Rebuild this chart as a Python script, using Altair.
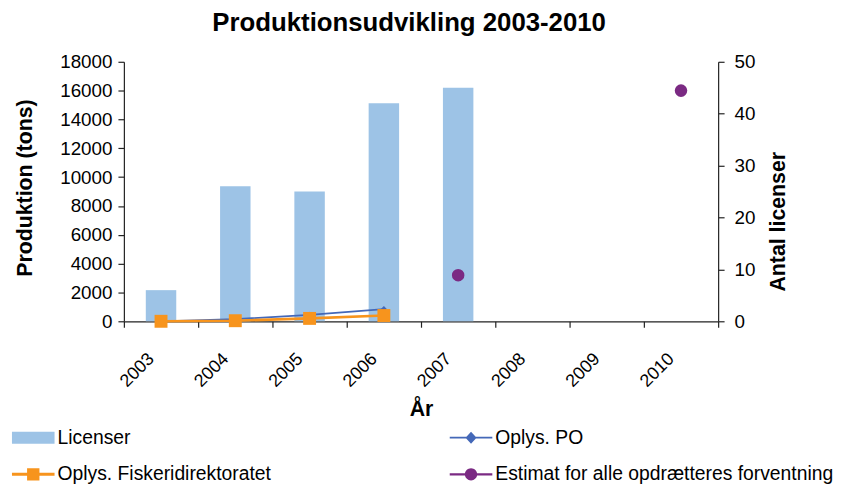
import altair as alt
import pandas as pd

years = ["2003", "2004", "2005", "2006", "2007", "2008", "2009", "2010"]

lic_years = ["2003", "2004", "2005", "2006", "2007"]
licenser = [6, 26, 25, 42, 45]

po_years = ["2003", "2004", "2005", "2006"]
po_values = [0, 150, 450, 850]

fisk_years = ["2003", "2004", "2005", "2006"]
fisk_values = [0, 40, 200, 400]

est_years = ["2007", "2010"]
est_values = [3200, 16000]

series = ["Licenser", "Oplys. PO", "Oplys. Fiskeridirektoratet",
          "Estimat for alle opdrætteres forventning"]
colors = ["#9DC3E6", "#4468B8", "#F7941D", "#7B2A83"]
legend_shapes = [
    "M-1,-0.28H1V0.28H-1Z",
    "M-1,-0.045H1V0.045H-1Z M0,-0.28L0.26,0L0,0.28L-0.26,0Z",
    "M-1,-0.07H1V0.07H-1Z M-0.29,-0.29H0.29V0.29H-0.29Z",
    "M-1,-0.055H1V0.055H-1Z M-0.29,0A0.29,0.29 0 1,1 0.29,0A0.29,0.29 0 1,1 -0.29,0Z",
]

FONT = "Liberation Sans"

df_lic = pd.DataFrame({"year": lic_years, "val": licenser, "serie": series[0]})
df_po = pd.DataFrame({"year": po_years, "val": po_values, "serie": series[1]})
df_fi = pd.DataFrame({"year": fisk_years, "val": fisk_values, "serie": series[2]})
df_est = pd.DataFrame({"year": est_years, "val": est_values, "serie": series[3]})
df_leg = pd.DataFrame({"serie": series})

xscale = alt.Scale(type="band", domain=years, paddingInner=0, paddingOuter=0)
xaxis = alt.Axis(title="År", labelAngle=315, labelAlign="right", labelBaseline="middle",
                 labelPadding=29, labelOffset=-10, tickBand="extent", tickSize=6, labelFontSize=18,
                 titleFontSize=21.5, titleFontWeight="bold", titleX=300, titleY=89,
                 titleBaseline="middle", titleAlign="center", grid=False)

def X():
    return alt.X("year:N", scale=xscale, axis=xaxis)

yleft_scale = alt.Scale(domain=[0, 18000], nice=False)
yleft_axis = alt.Axis(title="Produktion (tons)", orient="left", values=list(range(0, 18001, 2000)),
                      format="d", tickSize=6, labelPadding=6, labelFontSize=19, titleFontSize=21.5,
                      titleFontWeight="bold", titleAngle=270, titleX=-99, titleY=127,
                      titleAlign="center", titleBaseline="middle", grid=False)

yright_scale = alt.Scale(domain=[0, 50], nice=False)
yright_axis = alt.Axis(title="Antal licenser", orient="right", values=list(range(0, 51, 10)),
                       format="d", tickSize=6, labelPadding=10, labelFontSize=19, titleFontSize=21.5,
                       titleFontWeight="bold", titleAngle=270, titleX=61, titleY=161,
                       titleAlign="center", titleBaseline="middle", grid=False)

bars = alt.Chart(df_lic).mark_bar(color=colors[0], width={"band": 0.41}).encode(
    x=X(),
    y=alt.Y("val:Q", scale=yright_scale, axis=yright_axis),
)

po = alt.Chart(df_po).mark_line(
    color=colors[1], strokeWidth=1.8,
    point=alt.OverlayMarkDef(shape="diamond", size=35, filled=True, color=colors[1], opacity=1),
).encode(x=X(), y=alt.Y("val:Q", scale=yleft_scale, axis=yleft_axis))

fi = alt.Chart(df_fi).mark_line(
    color=colors[2], strokeWidth=2.6,
    point=alt.OverlayMarkDef(shape="square", size=170, filled=True, color=colors[2], opacity=1),
).encode(x=X(), y=alt.Y("val:Q", scale=yleft_scale, axis=yleft_axis))

legend_def = alt.Legend(title=None, orient="none", legendX=-113, legendY=358,
                        direction="horizontal", columns=2, columnPadding=180, rowPadding=6,
                        symbolSize=1849, labelFontSize=19.5, labelOffset=3, labelLimit=500,
                        symbolStrokeWidth=0, symbolOpacity=1, padding=0,
                        labelFont=FONT, labelColor="#000")

color_enc = alt.Color("serie:N", scale=alt.Scale(domain=series, range=colors), legend=legend_def)

est = alt.Chart(df_est).mark_point(filled=True, size=160, opacity=1).encode(
    x=X(),
    y=alt.Y("val:Q", scale=yleft_scale, axis=yleft_axis),
    color=color_enc,
)

leg = alt.Chart(df_leg).mark_point(filled=True, opacity=0).encode(
    color=color_enc,
    shape=alt.Shape("serie:N", scale=alt.Scale(domain=series, range=legend_shapes),
                    legend=legend_def),
)

inner = alt.layer(po, fi, est, leg)

chart = alt.layer(bars, inner).resolve_scale(y="independent").properties(
    width=600, height=262,
    padding={"left": 117, "top": 52, "right": 120, "bottom": 165},
    autosize=alt.AutoSizeParams(type="none"),
    title=alt.TitleParams("Produktionsudvikling 2003-2010", fontSize=26, fontWeight="bold",
                          font=FONT, anchor="middle", dx=-12, dy=-13, color="#000"),
).configure(font=FONT).configure_axis(
    labelFont=FONT, titleFont=FONT, labelColor="#000", titleColor="#000",
    domainColor="#222", tickColor="#222", domainWidth=1.2, tickWidth=1.2,
).configure_view(stroke=None)

chart.save("out.html", embed_options={"renderer": "svg", "actions": False})
